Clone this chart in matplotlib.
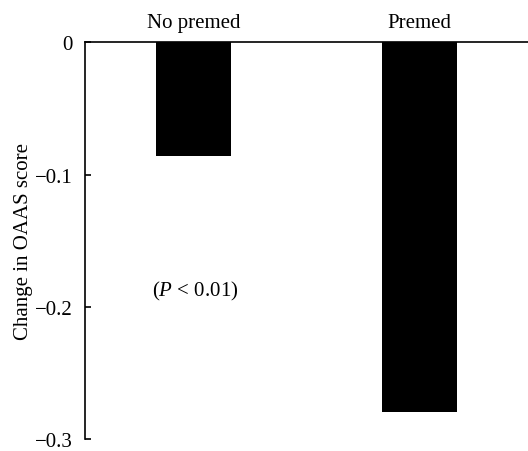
import matplotlib.pyplot as plt

# data
groups = ["No premed", "Premed"]
change = [-0.086, -0.280]
yticks = [0, -0.1, -0.2, -0.3]
ytick_labels = ["0", "\u22120.1", "\u22120.2", "\u22120.3"]

plt.rcParams["font.family"] = ["Liberation Serif", "DejaVu Serif"]
plt.rcParams["font.size"] = 15
plt.rcParams["mathtext.fontset"] = "custom"
plt.rcParams["mathtext.it"] = "Liberation Serif:italic"
plt.rcParams["mathtext.rm"] = "Liberation Serif"

fig = plt.figure(figsize=(5.28, 4.52), dpi=100)
ax = fig.add_axes((0.161, 0.027, 0.839, 0.877))

x = list(range(len(groups)))
ax.bar(x, change, width=0.332, color="black")

ax.set_xlim(-0.479, 1.48)
ax.set_ylim(-0.3, 0)

# categories sit on top, no tick marks
ax.xaxis.tick_top()
ax.set_xticks(x)
ax.set_xticklabels(groups)
ax.tick_params(axis="x", length=0, pad=7.5)

ax.set_yticks(yticks)
ax.set_yticklabels(ytick_labels)
ax.tick_params(axis="y", direction="in", length=4, width=1.2, pad=9)
ax.set_ylabel("Change in OAAS score", labelpad=1)

ax.spines["right"].set_visible(False)
ax.spines["bottom"].set_visible(False)
ax.spines["left"].set_linewidth(1.2)
ax.spines["top"].set_linewidth(1.2)

ax.text(0.01, -0.1876, r"($\it{P}$ < 0.01)", ha="center", va="center")

fig.savefig("out.png", dpi=100)
